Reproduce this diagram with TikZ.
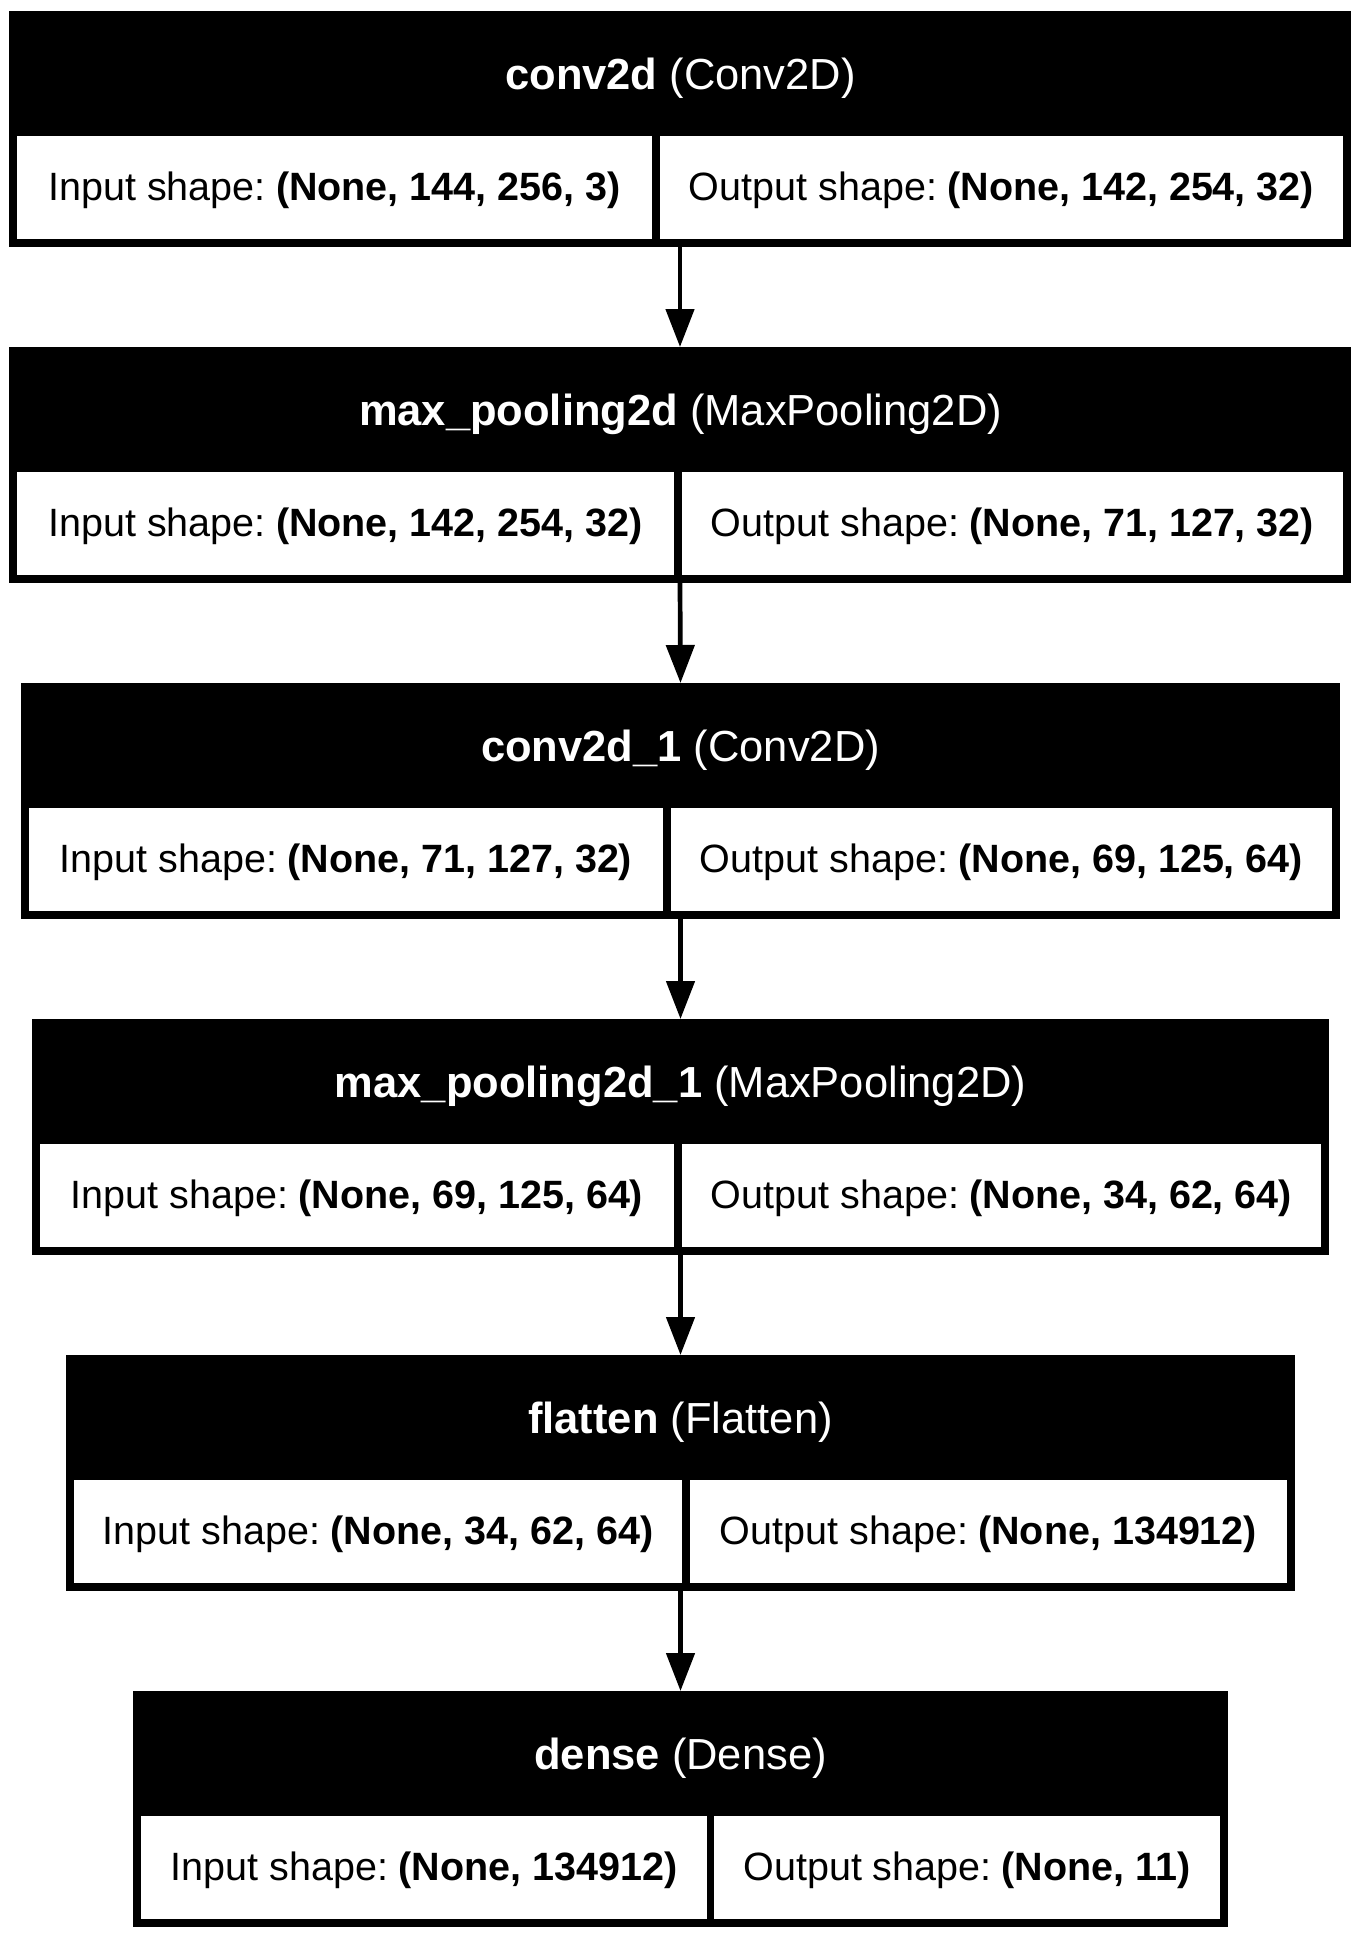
\documentclass[tikz,border=0pt]{standalone}
\usepackage{fontspec}
\setmainfont{Liberation Sans}
\usetikzlibrary{arrows.meta,fit}
\tikzset{
  blk/.style={draw=none, fill=black, inner sep=0pt, outer sep=0pt},
  txt/.style={inner sep=0pt, anchor=base, font=\fontsize{39.5}{47}\selectfont},
  head/.style={inner sep=0pt, anchor=base, text=white, font=\fontsize{43.5}{52}\selectfont},
  cellbox/.style={draw=none, fill=white, inner sep=0pt, outer sep=0pt},
  arr/.style={line width=4.7pt, -{Triangle[length=38pt,width=28pt]}}
}
\newcommand\gap{\hspace{0.26em}}
% #1 name, #2 top, #3 x1, #4 x2, #5 divL, #6 divR, #7 header, #8 in, #9 out
\newcommand\layerbox[9]{%
  \node[blk, fit={(#3,#2) (#4,#2+236)}] (#1) {};
  \node[head] (#1h) at (680.5,#2+78) {#7};
  \node[cellbox, fit={(#3+8,#2+125) (#5,#2+228)}] (#1i) {};
  \node[cellbox, fit={(#6,#2+125) (#4-8,#2+228)}] (#1o) {};
  \node[txt] (#1it) at ([yshift=-13pt]#1i.center) {Input shape:\gap\textbf{#8}};
  \node[txt] (#1ot) at ([yshift=-13pt]#1o.center) {Output shape:\gap\textbf{#9}};
}
\begin{document}
\begin{tikzpicture}[x=1pt,y=-1pt]
\fill[white] (0,0) rectangle (1361,1939);
\useasboundingbox (0,0) rectangle (1361,1939);
\layerbox{b1}{11}{9}{1351}{652}{660}{\textbf{conv2d} (Conv2D)}{(None, 144, 256, 3)}{(None, 142, 254, 32)}
\layerbox{b2}{347}{9}{1351}{674}{682}{\textbf{max\_pooling2d} (MaxPooling2D)}{(None, 142, 254, 32)}{(None, 71, 127, 32)}
\layerbox{b3}{683}{21}{1340}{663}{671}{\textbf{conv2d\_1} (Conv2D)}{(None, 71, 127, 32)}{(None, 69, 125, 64)}
\layerbox{b4}{1019}{32}{1329}{674}{682}{\textbf{max\_pooling2d\_1} (MaxPooling2D)}{(None, 69, 125, 64)}{(None, 34, 62, 64)}
\layerbox{b5}{1355}{66}{1295}{682}{690}{\textbf{flatten} (Flatten)}{(None, 34, 62, 64)}{(None, 134912)}
\layerbox{b6}{1691}{133}{1228}{707}{714}{\textbf{dense} (Dense)}{(None, 134912)}{(None, 11)}
\draw[arr] (b1.south) -- (b2.north);
\draw[arr] (b2.south) -- (b3.north);
\draw[arr] (b3.south) -- (b4.north);
\draw[arr] (b4.south) -- (b5.north);
\draw[arr] (b5.south) -- (b6.north);
\end{tikzpicture}
\end{document}
